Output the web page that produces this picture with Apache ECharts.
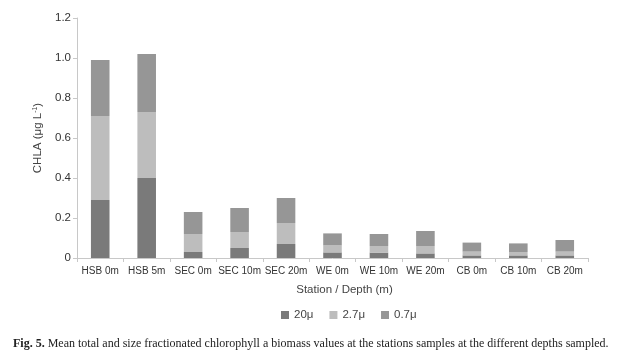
<!DOCTYPE html>
<html>
<head>
<meta charset="utf-8">
<script src="https://cdn.jsdelivr.net/npm/echarts@6/dist/echarts.min.js"></script>
<style>
  html, body { margin: 0; padding: 0; background: #fff; }
  #chart { width: 620px; height: 360px; }
</style>
</head>
<body>
<div id="chart"></div>
<script>
// stations / depths
var categories = ['HSB 0m', 'HSB 5m', 'SEC 0m', 'SEC 10m', 'SEC 20m', 'WE 0m', 'WE 10m', 'WE 20m', 'CB 0m', 'CB 10m', 'CB 20m'];
// size fractions, stacked bottom to top
var frac20 = [0.29, 0.40, 0.03, 0.05, 0.07, 0.028, 0.027, 0.023, 0.013, 0.013, 0.013];
var frac27 = [0.42, 0.33, 0.09, 0.08, 0.105, 0.035, 0.033, 0.037, 0.019, 0.017, 0.019];
var frac07 = [0.28, 0.29, 0.11, 0.12, 0.125, 0.06, 0.06, 0.075, 0.045, 0.043, 0.058];
var yTicks = [0, 0.2, 0.4, 0.6, 0.8, 1.0, 1.2];

var font = 'Liberation Sans';
var myChart = echarts.init(document.getElementById('chart'));

function bar(name, data, color) {
    return {
        name: name,
        type: 'bar',
        stack: 'chla',
        barCategoryGap: '60%',
        data: data,
        itemStyle: { color: color },
        emphasis: { disabled: true }
    };
}

var option = {
    animation: false,
    textStyle: { fontFamily: font },
    title: {
        text: '{b|Fig. 5.} Mean total and size fractionated chlorophyll a biomass values at the stations samples at the different depths sampled.',
        left: 8,
        top: 333,
        textStyle: {
            fontFamily: 'Liberation Serif',
            fontSize: 12,
            fontWeight: 'normal',
            color: '#222',
            rich: {
                b: { fontFamily: 'Liberation Serif', fontSize: 12, fontWeight: 'bold', color: '#222' }
            }
        }
    },
    legend: {
        data: ['20μ', '2.7μ', '0.7μ'],
        left: 276,
        top: 304,
        itemWidth: 8,
        itemHeight: 8,
        itemGap: 16,
        icon: 'rect',
        textStyle: { fontFamily: font, fontSize: 11.5, color: '#444' }
    },
    grid: { left: 77, right: 32, top: 18, bottom: 102 },
    xAxis: {
        type: 'category',
        data: categories,
        name: 'Station / Depth (m)',
        nameLocation: 'middle',
        nameGap: 26,
        nameTextStyle: { fontFamily: font, fontSize: 11.5, color: '#444', padding: [0, 0, 0, 24] },
        axisLine: { lineStyle: { color: '#c8c8c8' } },
        axisTick: { show: true, alignWithLabel: false, length: 4, lineStyle: { color: '#c8c8c8' } },
        axisLabel: { fontFamily: font, fontSize: 10, color: '#333', interval: 0, margin: 8 }
    },
    yAxis: {
        type: 'value',
        min: 0,
        max: 1.2,
        interval: 0.2,
        name: 'CHLA (μg L{s|-1})',
        nameLocation: 'middle',
        nameGap: 32,
        nameTextStyle: {
            fontFamily: font, fontSize: 11.5, color: '#444',
            rich: { s: { fontSize: 7, verticalAlign: 'top', padding: [0, 0, 6, 0], color: '#444' } }
        },
        axisLine: { show: true, lineStyle: { color: '#c8c8c8' } },
        axisTick: { show: true, length: 4, lineStyle: { color: '#c8c8c8' } },
        splitLine: { show: false },
        axisLabel: {
            fontFamily: font, fontSize: 11.5, color: '#333', margin: 6,
            formatter: function (v) {
                var i = yTicks.indexOf(Math.round(v * 10) / 10);
                if (v === 0) return '0';
                return i >= 0 ? yTicks[i].toFixed(1) : '';
            }
        }
    },
    series: [
        bar('20μ', frac20, '#7a7a7a'),
        bar('2.7μ', frac27, '#bdbdbd'),
        bar('0.7μ', frac07, '#969696')
    ]
};
myChart.setOption(option);
</script>
</body>
</html>
